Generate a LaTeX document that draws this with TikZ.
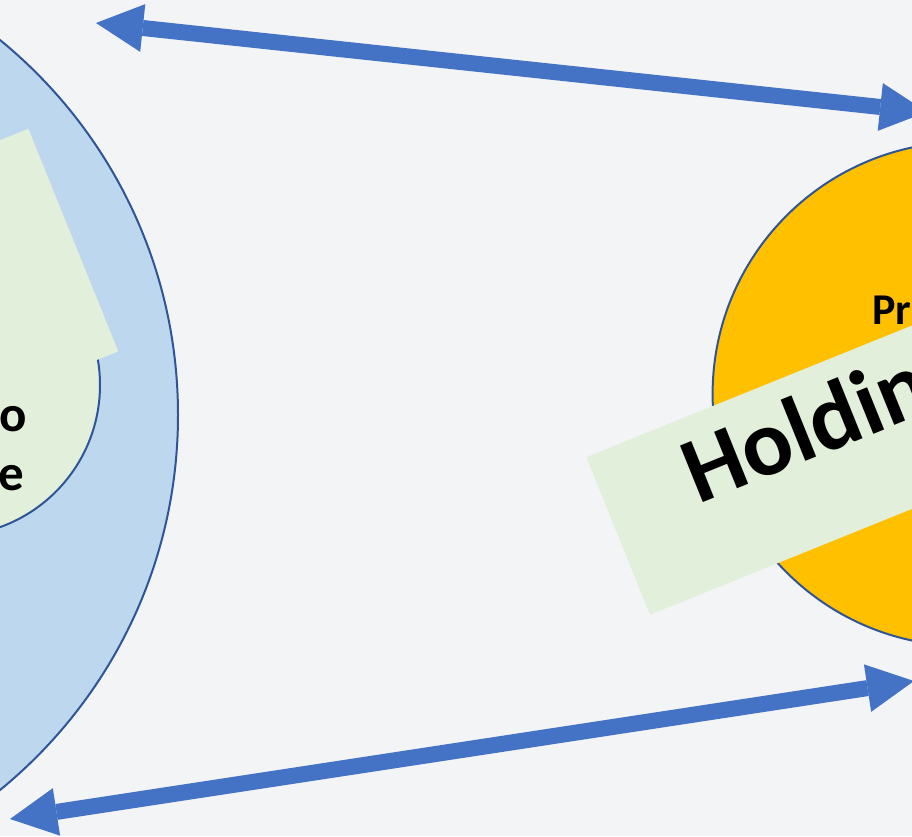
\documentclass[tikz,border=0pt]{standalone}
\usepackage{fontspec}
\setmainfont{Carlito}
\usetikzlibrary{arrows.meta}
\definecolor{bgcol}{HTML}{F3F4F6}
\definecolor{edgeblue}{HTML}{2F5597}
\definecolor{outerblue}{HTML}{BDD7EE}
\definecolor{bannergreen}{HTML}{E2EFDA}
\definecolor{ambercol}{HTML}{FFC000}
\definecolor{arrowblue}{HTML}{4472C4}
\begin{document}
\begin{tikzpicture}[x=1pt,y=1pt,
  ring/.style={circle, draw=edgeblue, line width=2pt, inner sep=0pt},
  banner/.style={fill=bannergreen, rotate=22, inner sep=0pt, minimum width=620pt},
  label/.style={inner sep=0pt, text=black, font=\bfseries},
  link/.style={draw=arrowblue, line width=16pt,
    {Triangle[width=48pt,length=47pt,line width=0pt]}-{Triangle[width=48pt,length=47pt,line width=0pt]}},
  ]
\useasboundingbox (0,0) rectangle (912,836);
\fill[bgcol] (0,0) rectangle (912,836);
\begin{scope}
\clip (0,0) rectangle (912,836);
% left circles
\node[ring, fill=outerblue, minimum size=968pt] (outer) at (-306,421) {};
\node[ring, fill=bannergreen, minimum size=302pt] (inner) at (-51,451) {};
\node[banner, minimum height=240pt, anchor=east] (leftbanner) at (73.5,596) {};
\node[label, font=\bfseries\fontsize{51}{58}\selectfont, anchor=base east] (lefto) at (27,404) {o};
\node[label, font=\bfseries\fontsize{51}{58}\selectfont, anchor=base east] (lefte) at (24,346) {e};
% right circle
\node[ring, fill=ambercol, minimum size=504pt] (amber) at (964.6,442) {};
\node[label, font=\bfseries\fontsize{44}{53}\selectfont, anchor=base west] (pr) at (872,511) {Pr};
\node[banner, minimum height=170pt, anchor=west] (rightbanner) at (618,300) {};
\node[label, font=\bfseries\fontsize{94}{110}\selectfont, anchor=base west, rotate=22] (holding) at (698,331) {Holdin};
% arrows
\coordinate (ta) at (96,813);
\coordinate (tb) at (927,724);
\coordinate (ba) at (10,17);
\coordinate (bb) at (914,155);
\draw[link] (ta) -- (tb);
\draw[link] (ba) -- (bb);
\end{scope}
\end{tikzpicture}
\end{document}
